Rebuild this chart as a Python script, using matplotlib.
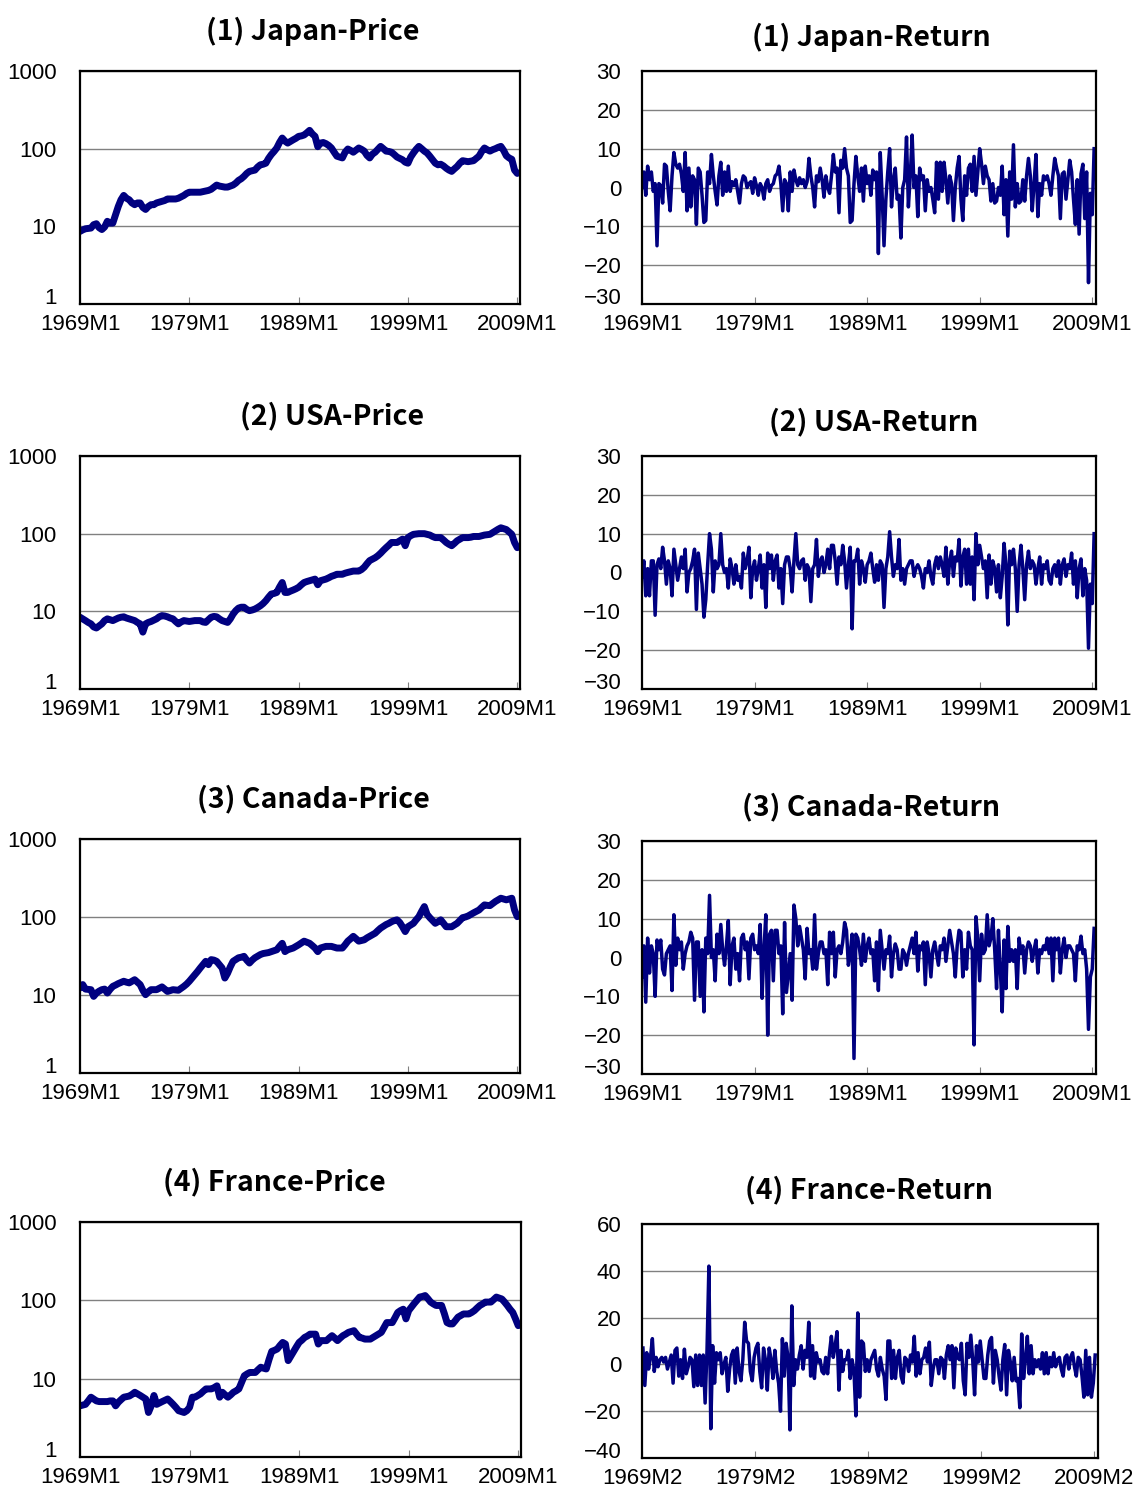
import numpy as np
import matplotlib.pyplot as plt

plt.rcParams['font.family'] = ['Noto Sans CJK JP', 'DejaVu Sans']

# quarterly price indices, 1969M1 .. 2009M1 (one row per year)
japan_price = [
    8.6, 9.0, 9.3, 9.4,
    9.5, 10.5, 10.8, 9.6,
    9.1, 9.8, 11.6, 11.0,
    11.0, 14, 18, 22,
    25, 23, 22, 20,
    19, 20, 20, 17.5,
    16.5, 18, 19, 19,
    20, 20.5, 21, 21.5,
    22.5, 22.5, 22.5, 22.5,
    23, 24, 25, 26.5,
    27.5, 27.5, 27.5, 27.5,
    27.5, 28, 28.5, 29,
    30, 32, 34, 33,
    32.5, 32, 32, 33,
    34, 36, 39, 41,
    44, 48, 51, 52,
    53, 58, 62, 63,
    65, 75, 84, 92,
    102, 120, 137, 125,
    118, 124, 130, 136,
    144, 146, 150, 160,
    172, 155, 144, 106,
    118, 120, 116, 110,
    102, 90, 80, 78,
    76, 90, 99, 95,
    90, 96, 102, 98,
    93, 82, 76, 85,
    90, 98, 107, 100,
    93, 92, 90, 84,
    78, 75, 72, 67,
    65, 78, 88, 98,
    107, 100, 93, 88,
    80, 72, 65, 62,
    63, 60, 56, 53,
    51, 55, 59, 65,
    70, 69, 68, 69,
    70, 75, 80, 92,
    102, 97, 93, 97,
    100, 104, 107, 95,
    81, 76, 73, 53,
    48,
]

usa_price = [
    8.4, 8.0, 7.6, 7.2,
    6.9, 6.3, 6.1, 6.5,
    6.9, 7.6, 8.0, 7.8,
    7.6, 7.9, 8.2, 8.4,
    8.5, 8.2, 8.0, 7.8,
    7.6, 7.2, 6.9, 5.4,
    6.9, 7.2, 7.4, 7.7,
    8.0, 8.5, 8.8, 8.7,
    8.5, 8.2, 8.0, 7.4,
    6.9, 7.3, 7.6, 7.5,
    7.4, 7.5, 7.6, 7.6,
    7.6, 7.3, 7.2, 7.8,
    8.4, 8.6, 8.5, 8.0,
    7.6, 7.4, 7.2, 8.0,
    9.2, 10.2, 11.0, 11.3,
    11.3, 10.6, 10.2, 10.4,
    10.7, 11.2, 11.8, 12.6,
    13.7, 15.2, 16.7, 17.0,
    17.5, 20.5, 23.5, 17.5,
    17.5, 18.2, 18.8, 19.5,
    20.4, 22.0, 23.5, 24.2,
    24.8, 25.5, 26, 22,
    24.8, 25.4, 26, 27,
    28.2, 29, 30, 30,
    30, 31, 31.7, 32.3,
    33, 33, 33, 34.5,
    37, 41, 45, 47,
    49, 52, 56, 61,
    66, 71, 77, 77,
    77, 81, 85, 70,
    89, 94, 98, 99,
    100, 100, 100, 98,
    96, 92, 89, 89,
    89, 83, 77, 73,
    70, 75, 81, 85,
    89, 89, 89, 90,
    92, 92, 92, 94,
    96, 97, 98, 103,
    108, 114, 119, 116,
    113, 105, 98, 77,
    66,
]

canada_price = [
    12.3, 13.6, 11.9, 11.8,
    11.7, 9.6, 10.6, 11.2,
    11.7, 11.9, 10.6, 11.8,
    12.9, 13.4, 14.0, 14.5,
    15.0, 14.6, 14.3, 15.0,
    15.7, 14.6, 13.6, 11.5,
    10.1, 11.0, 11.7, 11.7,
    11.7, 12.2, 12.7, 11.9,
    11.1, 11.4, 11.7, 11.6,
    11.5, 12.2, 12.9, 13.8,
    15.0, 16.5, 18.2, 20.0,
    22.2, 24.5, 27.0, 24.5,
    28.4, 28.0, 27.0, 24.5,
    22.2, 16.5, 19.0, 23.0,
    27.0, 28.5, 30.0, 30.5,
    31.3, 28.0, 25.7, 28.0,
    30.0, 31.5, 33.0, 34.0,
    34.5, 35.0, 36.0, 37.0,
    38.0, 42.0, 46.0, 36.0,
    38.0, 39.0, 40.0, 42.0,
    44.0, 46.5, 49.0, 47.5,
    46.0, 43.0, 40.0, 36.0,
    40.0, 41.0, 42.0, 42.0,
    42.0, 41.0, 40.0, 40.0,
    40.0, 44.0, 49.0, 52.5,
    56.5, 52.5, 49.0, 50.0,
    51.0, 54.0, 56.5, 59.0,
    62.0, 67.0, 72.0, 76.0,
    80.0, 83.0, 87.0, 90.0,
    92.0, 85.0, 75.0, 65.0,
    75.0, 79.0, 83.0, 92.0,
    101, 118, 136, 108,
    98, 90, 83, 87,
    92, 83, 75, 75,
    75, 79, 83, 90,
    98, 100, 103, 108,
    113, 118, 123, 133,
    143, 141, 140, 149,
    158, 166, 174, 170,
    166, 170, 174, 123,
    101,
]

france_price = [
    4.5, 4.6, 4.7, 5.2,
    5.8, 5.5, 5.2, 5.1,
    5.1, 5.1, 5.1, 5.2,
    5.2, 4.5, 5.0, 5.4,
    5.8, 5.9, 6.0, 6.3,
    6.7, 6.4, 6.1, 5.8,
    5.5, 3.7, 4.5, 6.1,
    4.7, 4.9, 5.1, 5.3,
    5.5, 5.1, 4.7, 4.3,
    3.9, 3.8, 3.7, 3.9,
    4.3, 5.8, 5.8, 6.1,
    6.4, 6.9, 7.4, 7.4,
    7.4, 7.7, 8.1, 5.8,
    6.7, 6.2, 5.8, 6.2,
    6.7, 7.0, 7.4, 9.0,
    10.9, 11.5, 12.0, 12.0,
    12.0, 13.0, 14.0, 13.6,
    13.3, 17.5, 22.3, 23.0,
    23.9, 26.5, 29.0, 27.7,
    17.0, 19.5, 22.3, 25.5,
    29.0, 31.0, 33.6, 35.0,
    37.0, 37.0, 37.0, 27.7,
    30.6, 30.6, 30.6, 33.0,
    35.4, 33.0, 30.6, 33.0,
    35.4, 37.0, 39.0, 40.0,
    41.0, 37.0, 33.6, 33.0,
    32.0, 32.0, 32.0, 33.6,
    35.4, 37.0, 39.0, 45.0,
    52.0, 52.0, 52.0, 60.0,
    70.0, 74.0, 77.0, 58.0,
    74.0, 82.0, 91.0, 100,
    110, 112, 115, 105,
    95, 90, 86, 86,
    86, 68, 52, 50,
    50, 55, 61, 64,
    67, 67, 67, 70,
    74, 80, 86, 90,
    95, 95, 95, 102,
    110, 107, 104, 95,
    86, 77, 70, 58,
    47.5,
]

# bimonthly returns (%), 1969M1 .. 2009M3 (France: 1969M2 .. 2009M2)
japan_ret = [
    0, 4, -2, 5.5, 2, 4,
    -1, 1, -15, 1, 0.5, -4,
    6, 5.5, -1, -6, 3, 9,
    6, 5, 6, 3.5, -1, 9,
    -6, 5, -5, 3, 2, -9.5,
    5, 4, -2, -9, -8.5, 4,
    1, 8.5, 3, -1, -4.5, 3,
    6.5, -2, 4, -1, 5.5, -1,
    1.5, 0.5, 2, -1, -4, 1,
    3, 2.5, 0, 1, 1.5, -1.5,
    2.5, 0.5, -2, 1, 0, -3,
    1, 2, -1, 0.5, 1, 3,
    3.5, 5.5, 1, -6, 2, 1,
    -6, 4, -1, 4.5, 2, 0.5,
    2.5, 1, 2, 0, 1.5, 7.5,
    3, 0, -5, 3, 1.5, 5,
    2, -2.5, 3, 0, -1.5, 3,
    8.5, 4, 5, -6.5, 7, 5,
    10, 5, 3, -9, -8.5, 1,
    8, 3, -1, 5, -3.5, 5.5,
    1, 3, -2, 4.5, 2, 4,
    -17, 9, -2, -15, -3, 4,
    10, -5, 2, 5, -3, -2,
    -13, 0, 2, 13, -5, 3,
    13.5, 0, 3, -7.5, 5, 2,
    3, -6, 2, -1, 0, -3,
    -6.5, 6.5, -3, 6.5, -1, 6.5,
    2, -4, 3, 1, -8.5, 0,
    5, 8, -3, -8.5, 3, -2,
    5, 6, -1, 8, -2, 4,
    10, 6, 1, 5.5, 3, 2,
    -3.5, 1, -4, -3.5, 0, -2,
    5.5, -7, 2, -12.5, 4, -3,
    11, -5, 1, -4, -3.5, 2,
    -3.5, 3, 7.5, 3, -6, 1,
    8.5, -7.5, 1, -2, 3, 2,
    3, 1, -2, 3, 7.5, 5,
    3, -8, 3.5, 4, -3, 2,
    7, 4, -3, -9.5, 2, -12,
    3.5, 6, -8, 4, -24.5, -1.5,
    -7, 10,
]

usa_ret = [
    -1, 3, -6, 1, -6, 3,
    3, -11, 2, 3.5, 1, 6.5,
    3, -3, 3, 1, -6, 6,
    2, -2, 1, 4, 1, 6,
    -5, 0, 1, 3, 6, -9.5,
    5, 1, -3, -11.5, -7, 2,
    10, 6, -5, 3, 1, 2,
    10, 2, 0, 1, -4, 3.5,
    1, -3, 2, -2, -1, -4,
    5, 1, 3, 6.5, -6.5, 1,
    3, -2, 1, 4.5, -4, 2,
    -9, 5, 1, 4.5, -2, 3,
    4.5, -4, 1, -8, 2, 4,
    4, 1, -5, 3, 10, 2,
    1, 3, 3.5, -2, 2, 1,
    -7.5, 1, 2, 8.5, -1, 3,
    4, 0, 2, 6, 1, 7,
    7, 3, -3, 4, 2, 7,
    3, -4, 2, 6.5, -14.5, 3,
    3, 6, -3, 3, 1, -2.5,
    2, 3, 5, 1, -2.5, 2,
    -2, 3, 2, -9, 1, 4,
    10.5, 4, -1, 2, 1, 8.5,
    -2, 1, -3, 1, 2, 3,
    3, -1, 1, 2, 1, -1,
    -4, 1, 0, 3, -1, -3,
    2, 4, 1, 4, 2, -1,
    6.5, -3, 3, 5.5, -1, 4,
    3, 8.5, -3.5, 4, 6, -3,
    6, -3, 4, -7, 10, 2,
    7, 4, 1, 3, -6.5, 4.5,
    -3, 3, 1, -5, 2, -6.5,
    -1, 7.5, 2, -13.5, 5.5, 2,
    6, 1, -10, 2, 7, 1,
    -7, 2, 5.5, 1, 3, 2,
    -3, 1, 4, -3, 2, 1,
    3, -2, -3, 1, 2, -1,
    3, -3, 2, 3.5, -1, 2,
    1, 5, -3, 3, -6.5, 1,
    3.5, -6, 1, -2, -19.5, -3,
    -8, 10,
]

canada_ret = [
    -5, 3, -11.5, 5, -4, 3,
    1, -10, 4.5, 2, 4.5, -3,
    -4.5, 1, 2, 3, -8.5, 11,
    -2, 5, 2, 4, -3, 1,
    3, 4, 6.5, 5, -11, 4,
    4, -10, 2, -14, 5, 1,
    16, 0, 2, -6, 6, 1,
    8.5, 2, -2, 3, 9.5, -7,
    3, 5, -3, 1, -6, 5,
    6, 2, 4, -5.5, 5, 6,
    2, 3, 1, 8.5, -10.5, 2,
    11, -20, 6, 7, -6, 7,
    7, 1, 3, -14.5, 9, -9,
    -4, 1, -11, 13.5, 10, 3,
    8, 5, 2, -5.5, 7.5, 1,
    2, -3, 11, -3, 1, 4,
    4, 1, 2, -7, 6.5, 1,
    6.5, -5, 2, 3, 1, 4,
    9, 7, -2, 1, 6, -26,
    6, 5, 2, -2, 6, -1,
    3, 5, 1, 2, -6, 4,
    -8.5, 7, 2, -3, 2, 1,
    5.5, -5, 1, 3.5, 2, -3,
    -3, 2, 1, -2, 1, 3,
    5, 1, 6.5, -3.5, 3, 2,
    4, -7, 4, 1, -5, 2,
    4, 1, -2, 3, 2, 5,
    -1, 3, 7, 4, 1, -5,
    3, 7, 6.5, -5, 2, -3,
    6.5, 3, 2, -22.5, 10.5, 5,
    -6, 6, 1, 2, 11, 3,
    5, 10, 2, -8, 7, -3,
    -14, 4.5, -8, 8, -1, 2,
    -1, 2, -8, 5, 1, 3,
    -4, 2, 4, 3, -1, 2,
    4.5, -4, 2, 1, 3, 2,
    5, 1, 5, -6, 5, 2,
    5, -4, 2, 5, 0, 3,
    3, 2, 1, -6, 3, 2,
    5.5, 1, 2, -3, -18.5, -5,
    -3, 7.5,
]

france_ret = [
    7, -9, 5, -2, 3, 11,
    -3, 3, -1, 2, 3, 1,
    3, -2, 1, 4, -8, 6,
    7, -5, 2, -6, 6.5, -4,
    -1, 3, 2, -9.5, 4, -9,
    4, -9, 4, -16.5, 6, 42,
    -27.5, 8, -8, 5, 2, 5,
    -4, 0, 3, -11.5, -2, 4,
    6, -8, 7, -3, -7, 2,
    18, 10, 9, -3, -7, 3,
    7, 9, -3, -10, 7, 2,
    -11, 7, 2, -6, 6, -3,
    -8, -20, 11, -5, 9, 3,
    -28, 25, -9, 2, -2, 4,
    8, -2, 6, 3, 18, -5,
    8, -6, 5, 1, 2, -3,
    -4, 3, -4, 5, 12, 3,
    8, 14, -11, 6, -3, 2,
    2, 6, -6, 2, -3, -22,
    22, -14, 10, 9, -3, 2,
    -3, 2, 4, 6, -2, -5,
    3, -2, -5, -15, 10, 10,
    -6, 6, -6, 3, 6, -5,
    -8, 3, 2, -3, 4, 1,
    12, -5, 5, -4, 2, 3,
    7, 1, 9.5, -9, -2, 2,
    2, -4, 3, 2, -6, 4,
    8, 2, 8, -10, 7, 3,
    2, 9, -7, -13, 9, 3,
    12.5, 2, -13, 8, 1, 10,
    2, -6, -6, 4, 10, 11.5,
    -8, 6, 2, -5, -11, 2,
    8.5, -13, 6, 1, -7, 3,
    -7, -6, -18.5, 13, -6, 2,
    12, -4, 8, -4, 2, -1,
    2, -2, 5, -4, 5, -4,
    3, -1, 5, -1, 2, 3,
    -2, -5, 3, 4, -2, 3,
    5, -1, -5, 3, 2, -5,
    -14, 6, -13, 3, -14, -8,
    4,
]

countries = ['Japan', 'USA', 'Canada', 'France']
prices = [japan_price, usa_price, canada_price, france_price]
returns = [japan_ret, usa_ret, canada_ret, france_ret]
ret_start = [0, 0, 0, 1]            # month offset of first return
ret_ylim = [(-30, 30), (-30, 30), (-30, 30), (-40, 60)]
ret_step = [10, 10, 10, 20]
tick_months = [0, 120, 240, 360, 480]
price_xlabels = ['1969M1', '1979M1', '1989M1', '1999M1', '2009M1']
ret_xlabels = [price_xlabels] * 3 + [['1969M2', '1979M2', '1989M2', '1999M2', '2009M2']]

# panel boxes in pixels: left, top, right, bottom
left_boxes = [(80, 71, 520, 304), (80, 456, 520, 689),
              (80, 839, 520, 1073), (80, 1222, 521, 1457)]
right_boxes = [(642, 71, 1096, 304), (642, 456, 1096, 689),
               (642, 841, 1096, 1074), (642, 1224, 1098, 1458)]
left_title_x = [0.53, 0.572, 0.53, 0.44]
right_title_x = [0.505, 0.51, 0.505, 0.497]

NAVY = '#000080'
TICK_FONT = 'Liberation Sans'
W, H = 1140, 1490

fig = plt.figure(figsize=(W / 100, H / 100), dpi=100)


def add_box(box):
    l, t, r, b = box
    return fig.add_axes([l / W, 1 - b / H, (r - l) / W, (b - t) / H])


def style(ax, xlabels, yticks, ylabels, ypad):
    for s in ax.spines.values():
        s.set_linewidth(1.6)
        s.set_color('black')
    ax.set_xticks(tick_months)
    ax.set_xticklabels(xlabels)
    ax.set_yticks(yticks)
    # bottom label is drawn separately, nudged up clear of the date labels
    ax.set_yticklabels([''] + list(ylabels[1:]))
    ax.annotate(ylabels[0], xy=(0, 0), xycoords='axes fraction',
                xytext=(-ypad, 4), textcoords='offset points',
                ha='right', va='center', fontsize=16, family=TICK_FONT)
    ax.tick_params(axis='x', direction='in', length=5, width=0.8,
                   color='#808080', pad=7, labelsize=16)
    ax.tick_params(axis='y', length=0, pad=ypad, labelsize=16)
    for lab in ax.get_xticklabels() + ax.get_yticklabels():
        lab.set_family(TICK_FONT)
    ax.yaxis.grid(True, color='#808080', lw=1.0)
    ax.set_axisbelow(True)


for i in range(4):
    # price panel, log scale
    ax = add_box(left_boxes[i])
    p = np.array(prices[i])
    xm = np.arange(len(p)) * 3
    ax.plot(xm, p, color=NAVY, lw=5, solid_capstyle='round', solid_joinstyle='round')
    ax.set_yscale('log')
    ax.set_ylim(1, 1000)
    ax.set_xlim(0, 483)
    ax.minorticks_off()
    style(ax, price_xlabels, [1, 10, 100, 1000], ['1', '10', '100', '1000'], 17)
    ax.text(left_title_x[i], 1.172, f'({i + 1}) {countries[i]}-Price',
            transform=ax.transAxes, ha='center', va='center',
            fontsize=20.5, fontweight='bold')

    # return panel
    ax = add_box(right_boxes[i])
    r = np.array(returns[i])
    xm = ret_start[i] + np.arange(len(r)) * 2
    ax.plot(xm, r, color=NAVY, lw=2.5)
    lo, hi = ret_ylim[i]
    ax.set_ylim(lo, hi)
    ax.set_xlim(0, 484)
    yt = np.arange(lo, hi + 1, ret_step[i])
    style(ax, ret_xlabels[i], yt, [f'{v:d}'.replace('-', '\u2212') for v in yt], 15)
    ax.text(right_title_x[i], 1.146, f'({i + 1}) {countries[i]}-Return',
            transform=ax.transAxes, ha='center', va='center',
            fontsize=20.5, fontweight='bold')

fig.savefig('out.png', dpi=100)
